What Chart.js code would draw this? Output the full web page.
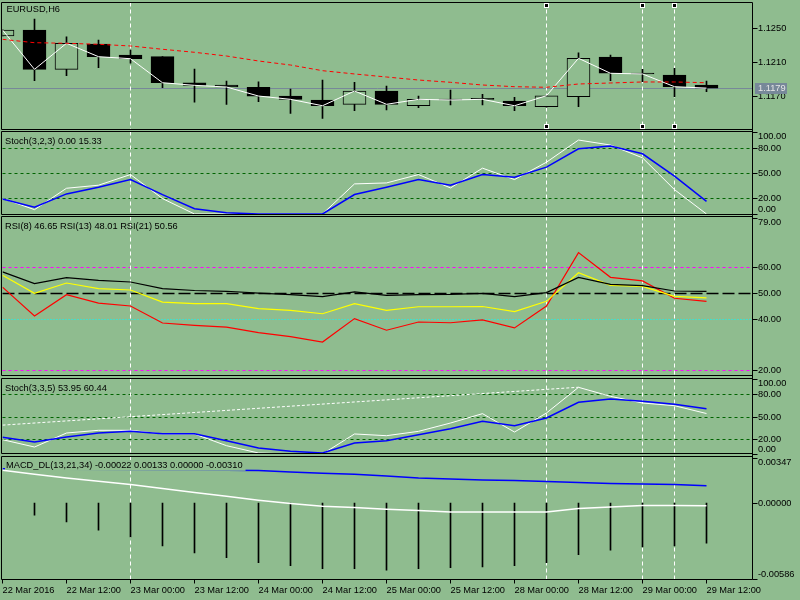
<!DOCTYPE html>
<html>
<head>
<meta charset="utf-8">
<script src="https://cdn.jsdelivr.net/npm/chart.js@4.4.1/dist/chart.umd.min.js"></script>
<style>
  html, body { margin: 0; padding: 0; background: #8fbc8f; }
  #wrap { position: relative; width: 800px; height: 600px; background: #8fbc8f; overflow: hidden; }
  #wrap canvas { position: absolute; left: 0; }
</style>
</head>
<body>
<div id="wrap">
  <canvas id="cPrice" width="800" height="131" style="top:0px"></canvas>
  <canvas id="cStochA" width="800" height="84" style="top:131px"></canvas>
  <canvas id="cRsi" width="800" height="161" style="top:215px"></canvas>
  <canvas id="cStochB" width="800" height="79" style="top:376px"></canvas>
  <canvas id="cMacd" width="800" height="145" style="top:455px"></canvas>
</div>
<script>
// ---- data (EURUSD, H6) ----
const barTimes = ["22 Mar 00:00", "22 Mar 06:00", "22 Mar 12:00", "22 Mar 18:00", "23 Mar 00:00", "23 Mar 06:00",
  "23 Mar 12:00", "23 Mar 18:00", "24 Mar 00:00", "24 Mar 06:00", "24 Mar 12:00", "24 Mar 18:00", "25 Mar 00:00",
  "25 Mar 06:00", "25 Mar 12:00", "25 Mar 18:00", "28 Mar 00:00", "28 Mar 06:00", "28 Mar 12:00", "28 Mar 18:00",
  "29 Mar 00:00", "29 Mar 06:00", "29 Mar 12:00"];
const timeTickBars = [0, 2, 4, 6, 8, 10, 12, 14, 16, 18, 20, 22];
const timeTickLabels = ["22 Mar 2016", "22 Mar 12:00", "23 Mar 00:00", "23 Mar 12:00", "24 Mar 00:00", "24 Mar 12:00",
  "25 Mar 00:00", "25 Mar 12:00", "28 Mar 00:00", "28 Mar 12:00", "29 Mar 00:00", "29 Mar 12:00"];

const opens  = [1.12409, 1.12480, 1.12013, 1.12314, 1.12183, 1.12163, 1.11854, 1.11827, 1.11800, 1.11696, 1.11649, 1.11598,
  1.11756, 1.11581, 1.11652, 1.11669, 1.11637, 1.11569, 1.11688, 1.12159, 1.11962, 1.11946, 1.11827];
const highs  = [1.12485, 1.12610, 1.12400, 1.12361, 1.12242, 1.12165, 1.12017, 1.11874, 1.11866, 1.11780, 1.11886, 1.11859,
  1.11815, 1.11696, 1.11768, 1.11717, 1.11681, 1.11705, 1.12210, 1.12183, 1.12013, 1.12025, 1.11874];
const lows   = [1.12405, 1.11878, 1.11937, 1.12032, 1.12085, 1.11795, 1.11622, 1.11598, 1.11629, 1.11491, 1.11432, 1.11522,
  1.11530, 1.11558, 1.11590, 1.11590, 1.11522, 1.11565, 1.11569, 1.11878, 1.11866, 1.11688, 1.11748];
const closes = [1.12480, 1.12013, 1.12322, 1.12163, 1.12139, 1.11854, 1.11823, 1.11803, 1.11696, 1.11657, 1.11581, 1.11756,
  1.11598, 1.11657, 1.11649, 1.11657, 1.11581, 1.11700, 1.12144, 1.11966, 1.11958, 1.11807, 1.11790];
const maSlow = [1.12369, 1.12329, 1.12322, 1.12310, 1.12290, 1.12251, 1.12215, 1.12171, 1.12112, 1.12064, 1.11997, 1.11958,
  1.11922, 1.11886, 1.11859, 1.11827, 1.11807, 1.11800, 1.11839, 1.11851, 1.11863, 1.11863, 1.11854];
const bidPrice = 1.1179;

const stochAMain   = [19, 5.3, 31.4, 35.1, 48.1, 18.8, 0, 0, 0, 0, 0, 36.7, 37.9, 48.1, 31.8, 55.9, 42, 63.2, 90.2, 84.1, 68.5, 29.7, 0];
const stochASignal = [18.4, 8.2, 24.5, 32.6, 42, 23.7, 6.5, 1.5, 0, 0, 0, 23.7, 32.6, 42, 35.1, 48.1, 44.9, 57.2, 79.6, 82.9, 73.4, 46.1, 15.33];

const rsi8  = [52.2, 41, 49.3, 46, 44.9, 38.3, 37.4, 36.7, 34.6, 33, 30.9, 40, 35.5, 38.7, 38.4, 39.5, 36.4, 44.9, 65.6, 56, 54.6, 47.9, 46.65];
const rsi13 = [56.8, 49.8, 53.8, 51.6, 51.1, 46.4, 45.8, 45.8, 43.9, 43.2, 41.9, 45.8, 43.2, 44.6, 44.6, 44.7, 42.7, 46.7, 57.8, 52.9, 52.5, 48.6, 48.01];
const rsi21 = [58.1, 53.6, 55.9, 54.8, 54.2, 51.6, 50.9, 50.6, 49.9, 49.3, 48.5, 50.4, 49, 49.3, 49.4, 49.8, 48.5, 50.1, 56, 53.3, 52.8, 50.7, 50.56];

const stochBMain   = [19.1, 9.3, 28, 31.6, 31.6, 26.7, 26.7, 11.1, 1.3, 0, 0, 26.7, 24.4, 30.2, 41.3, 53.8, 29.3, 54.7, 88.9, 76.9, 68, 64.4, 53.95];
const stochBSignal = [22.2, 16, 22.7, 28, 30.2, 27.1, 27.1, 17.8, 8, 3.6, 1.3, 14.7, 17.8, 25.8, 33.8, 43.6, 37.8, 48, 68.9, 73.3, 70.2, 66.2, 60.44];
const stochBTrend  = [{ x: 0, y: 38.5 }, { x: 18, y: 89 }];

const macdHist   = [null, -0.00094, -0.00145, -0.00209, -0.00261, -0.00330, -0.00384, -0.00422, -0.00461, -0.00484, -0.00507,
  -0.00507, -0.00517, -0.00507, -0.00499, -0.00492, -0.00484, -0.00461, -0.00399, -0.00363, -0.00338, -0.00330, -0.00310];
const macdMain   = [0.00252, 0.00222, 0.00193, 0.00168, 0.00142, 0.00112, 0.00081, 0.00052, 0.00022, -0.00004, -0.00025,
  -0.00035, -0.00048, -0.00058, -0.00069, -0.00069, -0.00069, -0.00069, -0.00042, -0.00030, -0.00019, -0.00019, -0.00022];
const macdSignal = [0.00265, 0.00263, 0.00261, 0.00259, 0.00257, 0.00255, 0.00254, 0.00252, 0.00250, 0.00239, 0.00229,
  0.00222, 0.00209, 0.00193, 0.00186, 0.00178, 0.00173, 0.00165, 0.00158, 0.00150, 0.00147, 0.00142, 0.00133];

const markedBars = [4, 17, 20, 21];     // vertical dashed lines
const selectedBars = [17, 20, 21];      // lines shown selected (anchor squares)

const priceTicks = [1.1250, 1.1210, 1.1170];
const stochTicks = [100, 80, 50, 20, 0];
const rsiTicks = [79, 60, 50, 40, 20];
const macdTicks = [0.00347, 0, -0.00586];

// ---- drawing ----
const BG = '#8fbc8f';
const FONT = '9.25px "Liberation Sans", Arial, sans-serif';
const X_MAX = 23.4375;   // 750px plot / 32px per bar

const xy = (values) => values.map((v, i) => ({ x: i, y: v }));

function lineSet(values, color, width, extra) {
  return Object.assign({
    type: 'line', data: xy(values), borderColor: color, borderWidth: width,
    pointRadius: 0, tension: 0, fill: false, clip: 0
  }, extra || {});
}

function drawTitle(chart, o, masked) {
  const ctx = chart.ctx;
  ctx.save();
  ctx.font = FONT;
  ctx.textBaseline = 'middle';
  if (masked) {
    const w = ctx.measureText(o.title).width;
    ctx.fillStyle = BG;
    ctx.fillRect(o.titleX - 1, o.titleY - 5.5, w + 4, 10.8);
  }
  ctx.fillStyle = '#000';
  ctx.fillText(o.title, o.titleX, o.titleY);
  ctx.restore();
}

const mtPane = {
  id: 'mtPane',
  beforeDatasetsDraw(chart, args, o) {
    const { ctx, chartArea: a, scales: { x, y } } = chart;
    ctx.save();
    (o.levels || []).forEach((l) => {
      const py = Math.round(y.getPixelForValue(l.value)) + 0.5;
      ctx.strokeStyle = l.color;
      ctx.lineWidth = l.width || 1;
      ctx.setLineDash(l.dash);
      ctx.beginPath();
      ctx.moveTo(a.left, py);
      ctx.lineTo(a.right, py);
      ctx.stroke();
    });
    ctx.lineWidth = 1;
    ctx.setLineDash([]);
    if (o.bid !== undefined) {
      const py = Math.round(y.getPixelForValue(o.bid)) + 0.5;
      ctx.strokeStyle = '#778899';
      ctx.beginPath();
      ctx.moveTo(a.left, py);
      ctx.lineTo(a.right, py);
      ctx.stroke();
    }
    ctx.strokeStyle = '#ffffff';
    ctx.setLineDash([4, 3]);
    markedBars.forEach((b) => {
      const px = Math.floor(x.getPixelForValue(b)) + 0.5;
      ctx.beginPath();
      ctx.moveTo(px, o.frameTop);
      ctx.lineTo(px, o.frameBottom);
      ctx.stroke();
    });
    ctx.restore();
  },
  afterDatasetDraw(chart, args, o) {
    if (o.maskIndex === args.index) drawTitle(chart, o, true);
  },
  afterDraw(chart, args, o) {
    const { ctx, chartArea: a, scales: { x, y } } = chart;
    ctx.save();
    ctx.strokeStyle = '#000';
    ctx.lineWidth = 1;
    ctx.beginPath();
    ctx.moveTo(1.5, o.frameTop); ctx.lineTo(752.5, o.frameTop);
    ctx.moveTo(1.5, o.frameBottom); ctx.lineTo(752.5, o.frameBottom);
    ctx.moveTo(1.5, o.frameTop); ctx.lineTo(1.5, o.frameBottom);
    ctx.moveTo(752.5, o.axisFrom); ctx.lineTo(752.5, o.axisTo);
    ctx.stroke();

    // right axis ticks and labels
    ctx.font = FONT;
    ctx.textBaseline = 'middle';
    ctx.fillStyle = '#000';
    o.ticks.forEach((v) => {
      const py = Math.round(y.getPixelForValue(v)) + 0.5;
      ctx.beginPath();
      ctx.moveTo(752.5, py); ctx.lineTo(757.5, py);
      ctx.stroke();
      let ty = py;
      if (Math.abs(py - a.top) < 3) ty = py + 4;
      else if (Math.abs(py - a.bottom) < 3) ty = py - 5;
      ctx.fillText(v.toFixed(o.decimals), 758, ty);
    });

    if (o.maskIndex === undefined) drawTitle(chart, o, false);

    if (o.bid !== undefined) {
      const py = y.getPixelForValue(o.bid);
      ctx.fillStyle = '#778899';
      ctx.fillRect(755, Math.round(py) - 5, 32, 11);
      ctx.fillStyle = '#e6e6e6';
      ctx.fillText(o.bid.toFixed(4), 758, Math.round(py) + 0.5);
    }

    if (o.anchors) {
      selectedBars.forEach((b) => {
        const cx = Math.floor(x.getPixelForValue(b));
        o.anchors.forEach((cy) => {
          ctx.fillStyle = '#ffffff';
          ctx.fillRect(cx - 2, cy - 2, 5, 5);
          ctx.fillStyle = '#000';
          ctx.fillRect(cx - 1, cy - 1, 3, 3);
        });
      });
    }

    if (o.timeAxis) {
      ctx.fillStyle = '#000';
      ctx.textAlign = 'left';
      timeTickBars.forEach((b, i) => {
        const px = Math.floor(x.getPixelForValue(b)) + 0.5;
        ctx.beginPath();
        ctx.moveTo(px, o.frameBottom); ctx.lineTo(px, o.frameBottom + 4);
        ctx.stroke();
        ctx.fillText(timeTickLabels[i], px, o.frameBottom + 10.5);
      });
    }
    ctx.restore();
  }
};

function makePane(id, geom, yMin, yMax, datasets, pane) {
  return new Chart(document.getElementById(id), {
    type: 'bar',
    data: { datasets: datasets },
    options: {
      responsive: false,
      animation: false,
      events: [],
      layout: { padding: { left: 2.5, right: 47.5, top: geom.padTop, bottom: geom.padBottom } },
      scales: {
        x: { type: 'linear', min: 0, max: X_MAX, offset: false, display: false },
        y: { type: 'linear', min: yMin, max: yMax, display: false }
      },
      plugins: { legend: { display: false }, tooltip: { enabled: false }, mtPane: pane }
    },
    plugins: [mtPane]
  });
}

// price pane: candles + close line + slow MA
makePane('cPrice', { padTop: 3, padBottom: 2 }, 1.11305, 1.12800, [
  lineSet(maSlow, '#ff0000', 1, { borderDash: [4, 3], order: 0 }),
  lineSet(closes, '#ffffff', 1, { order: 1 }),
  {
    type: 'bar', data: opens.map((o, i) => ({ x: i, y: [o, closes[i]] })),
    backgroundColor: (c) => (closes[c.dataIndex] >= opens[c.dataIndex] ? BG : '#000'),
    borderColor: '#000', borderWidth: 1, borderSkipped: false, barThickness: 23,
    minBarLength: 1, grouped: false, clip: 0, order: 2
  },
  {
    type: 'bar', data: lows.map((l, i) => ({ x: i, y: [l, highs[i]] })),
    backgroundColor: '#000', borderWidth: 0, barThickness: 1, grouped: false, clip: 0, order: 3
  }
], {
  title: 'EURUSD,H6', titleX: 6.5, titleY: 9.5, frameTop: 2.5, frameBottom: 129.5, axisFrom: 2.5, axisTo: 131,
  ticks: priceTicks, decimals: 4, bid: bidPrice, anchors: [5, 126]
});

// Stoch(3,2,3)
makePane('cStochA', { padTop: 1, padBottom: 1 }, 0, 100, [
  lineSet(stochASignal, '#0000ff', 1.5, { order: 0 }),
  lineSet(stochAMain, '#ffffff', 1, { order: 1 })
], {
  title: 'Stoch(3,2,3) 0.00 15.33', titleX: 5, titleY: 10, frameTop: 0.5, frameBottom: 83.5, axisFrom: 0, axisTo: 84,
  ticks: stochTicks, decimals: 2,
  levels: [
    { value: 80, color: '#006400', dash: [3, 3] },
    { value: 50, color: '#006400', dash: [3, 3] },
    { value: 20, color: '#006400', dash: [3, 3] }
  ]
});

// RSI(8), RSI(13), RSI(21)
makePane('cRsi', { padTop: 3, padBottom: 1 }, 18.15, 79, [
  lineSet(rsi21, '#000000', 1.2, { order: 0 }),
  lineSet(rsi13, '#ffff00', 1.2, { order: 1 }),
  lineSet(rsi8, '#ff0000', 1.2, { order: 2 })
], {
  title: 'RSI(8) 46.65 RSI(13) 48.01 RSI(21) 50.56', titleX: 5, titleY: 11.5, frameTop: 1.5, frameBottom: 160.5,
  axisFrom: 0, axisTo: 161, ticks: rsiTicks, decimals: 2,
  levels: [
    { value: 60, color: '#ff00ff', dash: [3, 3] },
    { value: 50, color: '#000000', dash: [12, 4], width: 1.5 },
    { value: 40, color: '#00ffff', dash: [1, 2] },
    { value: 20, color: '#ff00ff', dash: [3, 3] }
  ]
});

// Stoch(3,3,5) with trend line
makePane('cStochB', { padTop: 3, padBottom: 1 }, 0, 100, [
  lineSet(stochBSignal, '#0000ff', 1.5, { order: 0 }),
  lineSet(stochBMain, '#ffffff', 1, { order: 1 }),
  { type: 'line', data: stochBTrend, borderColor: '#ffffff', borderWidth: 1, borderDash: [3, 2], pointRadius: 0, clip: 0, order: 2 }
], {
  title: 'Stoch(3,3,5) 53.95 60.44', titleX: 5, titleY: 12, frameTop: 2.5, frameBottom: 77.5, axisFrom: 0, axisTo: 79,
  ticks: stochTicks, decimals: 2,
  levels: [
    { value: 80, color: '#006400', dash: [3, 3] },
    { value: 50, color: '#006400', dash: [3, 3] },
    { value: 20, color: '#006400', dash: [3, 3] }
  ]
});

// MACD_DL(13,21,34)
makePane('cMacd', { padTop: 3, padBottom: 21 }, -0.00586, 0.00347, [
  lineSet(macdMain, '#ffffff', 1.5, { order: 1 }),
  lineSet(macdSignal, '#0000ff', 1.5, { order: 2 }),
  { type: 'bar', data: xy(macdHist), backgroundColor: '#000', borderWidth: 0, barThickness: 1, grouped: false, clip: 0, order: 3 }
], {
  title: 'MACD_DL(13,21,34) -0.00022 0.00133 0.00000 -0.00310', titleX: 6, titleY: 10.5, maskIndex: 1,
  frameTop: 1.5, frameBottom: 124.5, axisFrom: 0, axisTo: 124.5, ticks: macdTicks, decimals: 5, timeAxis: true
});
</script>
</body>
</html>
